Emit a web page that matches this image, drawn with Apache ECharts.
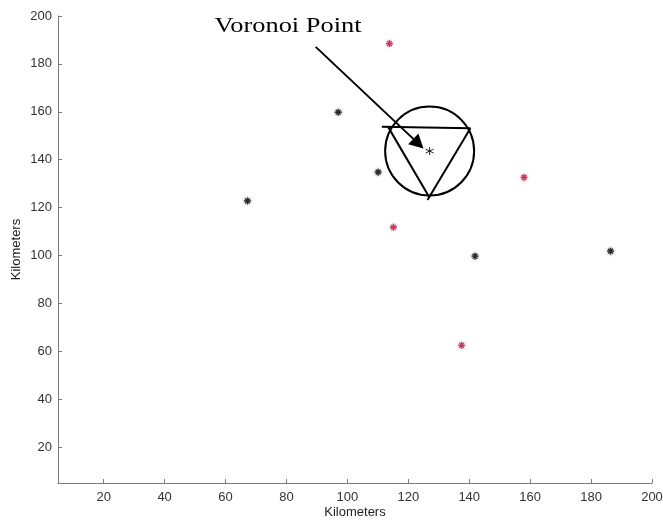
<!DOCTYPE html>
<html>
<head>
<meta charset="utf-8">
<script src="https://cdn.jsdelivr.net/npm/echarts@6/dist/echarts.min.js"></script>
<style>
  html, body { margin: 0; padding: 0; background: #fff; }
  #chart { width: 663px; height: 520px; }
</style>
</head>
<body>
<div id="chart"></div>
<script>
// Station locations in kilometres
const blackStations = [
  [67.2, 122.8], [97.0, 159.8], [110.1, 134.8], [141.9, 99.7], [186.4, 101.8]
];
const redStations = [
  [113.8, 188.5], [158.0, 132.6], [115.1, 111.8], [137.5, 62.5]
];
// Voronoi vertex (circumcentre of the marked triangle)
const voronoiPoint = [[127.0, 143.6]];
// Delaunay triangle edges drawn around the vertex
const triangleSegments = [
  [[111.3, 153.8], [140.4, 153.1]],
  [[140.4, 153.1], [126.3, 123.2]],
  [[113.4, 153.6], [126.9, 124.3]]
];
// Annotation arrow: tail -> arrowhead centre
const arrowFrom = [89.6, 187.1];
const arrowTo = [123.3, 146.7];
const annotationText = 'Voronoi Point';
const annotationAt = [56.4, 195.5];

const axisRange = [5, 200];
const tickValues = [20, 40, 60, 80, 100, 120, 140, 160, 180, 200];

const ASTERISK = 'path://M5,0L5,10M0,5L10,5M1.6,1.6L8.4,8.4M1.6,8.4L8.4,1.6';
const STAR6 = 'path://M5,0L5,10M0.7,2.5L9.3,7.5M0.7,7.5L9.3,2.5';
const axisGray = '#7a7a7a';
const labelFont = { fontFamily: 'Liberation Sans, Arial, sans-serif', fontSize: 13, color: '#333' };

function makeAxis(name, nameGap, rotate, labelMargin) {
  return {
    type: 'value',
    min: axisRange[0],
    max: axisRange[1],
    name: name,
    nameLocation: 'middle',
    nameGap: nameGap,
    nameRotate: rotate,
    nameMoveOverlap: false,
    nameTextStyle: Object.assign({}, labelFont, { color: '#222' }),
    axisLine: { show: true, onZero: false, lineStyle: { color: axisGray, width: 1 } },
    axisTick: { show: true, inside: true, length: 4, customValues: tickValues, lineStyle: { color: axisGray } },
    axisLabel: Object.assign({ customValues: tickValues, margin: labelMargin }, labelFont),
    splitLine: { show: false }
  };
}

const chart = echarts.init(document.getElementById('chart'), null, { renderer: 'canvas' });

const series = [
  {
    type: 'scatter', name: 'black', data: blackStations,
    symbol: ASTERISK, symbolSize: 7,
    itemStyle: { opacity: 1, color: '#2a2a2a', borderColor: '#2a2a2a', borderWidth: 1.3, shadowBlur: 3, shadowColor: 'rgba(40,40,40,0.5)' },
    z: 3
  },
  {
    type: 'scatter', name: 'red', data: redStations,
    symbol: ASTERISK, symbolSize: 7,
    itemStyle: { opacity: 1, color: '#c83a5c', borderColor: '#c83a5c', borderWidth: 1.3, shadowBlur: 3, shadowColor: 'rgba(200,58,92,0.5)' },
    z: 3
  },
  {
    type: 'scatter', name: 'circle', data: voronoiPoint,
    symbol: 'circle', symbolSize: 89,
    itemStyle: { opacity: 1, color: 'rgba(0,0,0,0)', borderColor: '#000', borderWidth: 2 },
    z: 4
  },
  {
    type: 'scatter', name: 'voronoi', data: voronoiPoint,
    symbol: STAR6, symbolSize: 8,
    itemStyle: { opacity: 1, color: '#111', borderColor: '#111', borderWidth: 0.9 },
    z: 5,
    markLine: {
      silent: true,
      symbol: ['none', 'triangle'],
      symbolSize: [15, 14],
      label: { show: false },
      lineStyle: { color: '#000', width: 2, type: 'solid', opacity: 1 },
      emphasis: { disabled: true },
      data: [[{ coord: arrowFrom }, { coord: arrowTo }]]
    }
  }
];

triangleSegments.forEach(function (seg) {
  series.push({
    type: 'line', data: seg, symbol: 'none', silent: true,
    lineStyle: { color: '#000', width: 2 }, z: 4
  });
});

chart.setOption({
  animation: false,
  backgroundColor: '#fff',
  grid: { left: 58, right: 11, top: 16, bottom: 37, containLabel: false, outerBoundsMode: 'none' },
  xAxis: makeAxis('Kilometers', 23, 0, 8),
  yAxis: makeAxis('Kilometers', 35, 90, 6),
  series: series
});

// Place the annotation text at its data position
const pos = chart.convertToPixel({ gridIndex: 0 }, annotationAt);
chart.setOption({
  graphic: [{
    type: 'text',
    x: pos[0], y: pos[1],
    scaleX: 1.32,
    style: {
      text: annotationText,
      font: '20px "Liberation Serif", "Times New Roman", serif',
      fill: '#000',
      textAlign: 'left',
      textVerticalAlign: 'middle'
    },
    z: 10
  }]
});
</script>
</body>
</html>
